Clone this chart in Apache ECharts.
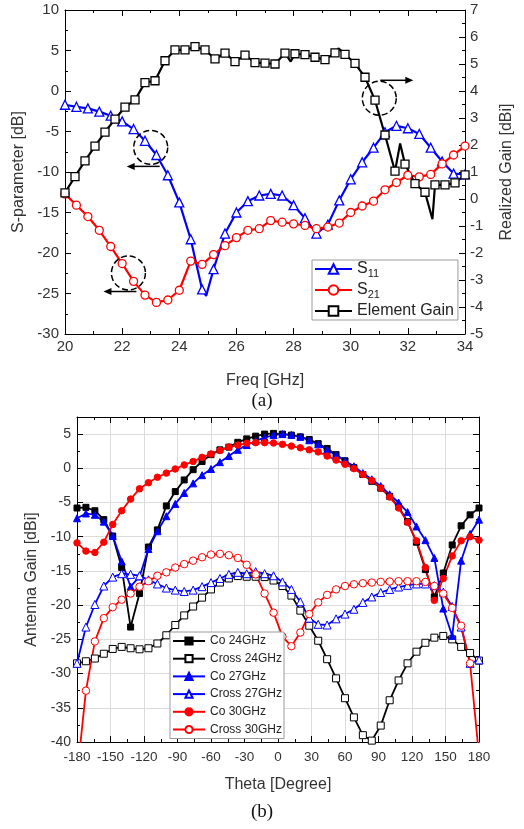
<!DOCTYPE html>
<html><head><meta charset="utf-8">
<script src="https://cdn.jsdelivr.net/npm/echarts@6/dist/echarts.min.js"></script>
<style>html,body{margin:0;padding:0;background:#fff}#c{width:524px;height:829px}</style>
</head><body><div id="c"></div>
<script>
// ---------- (a) S-parameters / element gain ----------
const freqS = [20.0,20.4,20.8,21.2,21.6,22.0,22.4,22.8,23.2,23.6,24.0,24.4,24.8,25.2,25.6,26.0,26.4,26.8,27.2,27.6,28.0,28.4,28.8,29.2,29.6,30.0,30.4,30.8,31.2,31.6,32.0,32.4,32.8,33.2,33.6,34.0];
const s11 = [-1.7,-1.95,-2.15,-2.55,-3.05,-3.75,-4.7,-6.15,-7.9,-10.4,-13.75,-18.3,-24.5,-22.0,-17.6,-15.0,-13.6,-12.9,-12.7,-12.9,-14.1,-15.7,-17.6,-16.5,-13.5,-10.9,-8.8,-7.0,-5.1,-4.3,-4.6,-5.3,-7.0,-8.7,-10.2,-10.3];
const s11DetailFreq = [24.94];
const s11DetailVal = [-25.3];
const s21 = [-12.7,-14.1,-15.5,-17.2,-19.2,-21.3,-23.5,-25.2,-26.1,-25.8,-24.6,-21.0,-21.4,-20.2,-19.1,-18.1,-17.2,-17.0,-16.0,-16.2,-16.4,-16.6,-17.0,-16.8,-16.3,-15.0,-14.2,-13.6,-12.2,-11.3,-10.4,-10.6,-10.3,-9.0,-7.9,-6.8];
const freqGain = [20.00,20.35,20.70,21.05,21.40,21.75,22.10,22.45,22.80,23.15,23.50,23.85,24.20,24.55,24.90,25.25,25.60,25.95,26.30,26.65,27.00,27.35,27.70,28.05,28.40,28.75,29.10,29.45,29.80,30.15,30.50,30.85,31.20,31.55,31.90,32.25,32.60,32.95,33.30,33.65,34.00];
const gain = [0.23,0.83,1.41,1.96,2.48,2.96,3.40,3.67,4.31,4.38,5.12,5.52,5.52,5.64,5.52,5.19,5.40,5.09,5.33,5.05,5.03,5.0,5.40,5.38,5.35,5.25,5.16,5.41,5.36,5.02,4.51,3.66,2.37,1.03,1.29,0.57,0.25,0.52,0.52,0.60,0.89];
const gainDetailFreq = [27.9,29.57,31.73,32.86];
const gainDetailVal = [5.09,5.58,2.06,-0.75];

// ---------- (b) radiation patterns ----------
const theta = [-180,-172,-164,-156,-148,-140,-132,-124,-116,-108,-100,-92,-84,-76,-68,-60,-52,-44,-36,-28,-20,-12,-4,4,12,20,28,36,44,52,60,68,76,84,92,100,108,116,124,132,140,148,156,164,172,180];
const co24 = [-5.8,-5.7,-6.2,-7.5,-9.9,-14.5,-23.2,-18.3,-11.5,-9.0,-5.5,-3.4,-1.7,-0.2,1.0,2.0,2.7,3.1,3.8,4.3,4.7,5.0,5.1,5.0,4.85,4.6,4.2,3.6,2.9,2.0,1.1,0.1,-0.9,-1.9,-2.9,-4.1,-5.6,-7.8,-10.8,-14.8,-18.8,-15.3,-11.2,-8.4,-6.8,-5.8];
const cross24 = [-28.5,-28.2,-27.8,-27.1,-26.4,-26.1,-26.3,-26.45,-26.3,-25.6,-24.4,-22.9,-21.5,-20.2,-18.9,-17.7,-16.7,-16.1,-15.75,-15.85,-15.85,-15.9,-16.4,-17.2,-18.6,-20.8,-23.0,-25.2,-27.9,-30.7,-33.6,-36.4,-39.0,-39.8,-37.6,-33.9,-31.0,-28.5,-26.8,-25.5,-24.75,-24.5,-25.0,-26.1,-27.0,-28.1];
const co27 = [-7.3,-6.6,-6.8,-7.8,-9.9,-13.6,-17.3,-15.8,-11.8,-9.2,-7.0,-5.2,-3.6,-2.2,-1.0,-0.1,0.9,1.8,2.7,3.4,4.0,4.5,4.85,5.0,4.9,4.6,4.1,3.5,2.7,1.9,1.1,0.3,-0.7,-1.6,-2.6,-3.8,-5.0,-6.4,-8.5,-10.5,-13.1,-20.5,-24.5,-13.5,-9.6,-7.5];
const cross27 = [-28.5,-23.2,-19.9,-17.2,-15.9,-15.4,-15.5,-15.7,-16.3,-16.9,-17.5,-17.8,-18.0,-17.8,-17.3,-16.7,-16.1,-15.5,-15.2,-15.4,-15.1,-15.4,-15.7,-16.6,-17.7,-19.5,-21.9,-22.8,-22.9,-22.0,-21.3,-20.6,-19.6,-18.8,-18.15,-17.7,-17.35,-17.1,-16.9,-16.9,-17.15,-18.1,-20.2,-23.2,-28.5,-28.0];
const co30 = [-10.9,-12.1,-12.3,-10.8,-8.2,-6.2,-4.5,-3.0,-2.1,-1.3,-0.7,-0.1,0.5,1.0,1.6,2.1,2.6,3.1,3.4,3.65,3.75,3.75,3.7,3.5,3.25,3.0,2.7,2.4,1.8,1.2,0.6,-0.05,-0.9,-1.8,-2.9,-4.2,-5.8,-7.9,-10.6,-14.5,-19.3,-16.1,-12.8,-10.6,-10.0,-10.5];
const cross30 = [-45,-32.5,-25.3,-21.9,-20.3,-19.2,-18.3,-17.3,-16.5,-15.7,-15.2,-14.5,-14.0,-13.5,-13.0,-12.6,-12.5,-12.7,-13.1,-14.1,-15.5,-18.3,-21.1,-24.6,-26.0,-24.0,-21.3,-19.6,-18.5,-17.7,-17.2,-16.95,-16.8,-16.7,-16.6,-16.55,-16.5,-16.5,-16.5,-16.6,-17.2,-18.3,-20.4,-23.0,-28.5,-42];

const FONT = '"Liberation Sans", Arial, Helvetica, sans-serif';
const TXT = '#333';
const BLUE = '#0000ff', RED = '#ff0000', BLACK = '#000000';

function pairs(xs, ys) { return xs.map((x, i) => [x, ys[i]]); }
function withDetail(xs, ys, dx, dy) {
  const a = xs.map((x, i) => ({ value: [x, ys[i]] }));
  const b = dx.map((x, i) => ({ value: [x, dy[i]], symbol: 'none' }));
  return a.concat(b).sort((p, q) => p.value[0] - q.value[0]);
}

function axis(o) {
  const base = {
    type: 'value',
    axisLine: { show: true, onZero: false, lineStyle: { color: '#000', width: 1 } },
    axisTick: { show: true, inside: true, length: 6, lineStyle: { color: '#000', width: 1 } },
    minorTick: { show: true, splitNumber: 2, length: 3, lineStyle: { color: '#000', width: 1 } },
    splitLine: { show: false },
    axisLabel: { show: true, color: TXT, fontFamily: FONT },
    nameTextStyle: { color: TXT, fontFamily: FONT, fontSize: 16 }
  };
  return Object.assign(base, o);
}
const grid1Split = { show: true, lineStyle: { color: '#dcdcdc', width: 1 } };

const chart = echarts.init(document.getElementById('c'), null, { renderer: 'canvas' });

function lineSeries(name, xi, yi, data, sym, size, color, filled, lw, bw) {
  return {
    name, type: 'line', xAxisIndex: xi, yAxisIndex: yi, data,
    symbol: sym, symbolSize: size, showAllSymbol: true,
    lineStyle: { color, width: lw },
    itemStyle: { color: filled ? color : '#ffffff', borderColor: color, borderWidth: bw },
    emphasis: { disabled: true }, animation: false
  };
}

const option = {
  animation: false,
  textStyle: { fontFamily: FONT },
  grid: [
    { left: 65, top: 10, width: 400, height: 324 },
    { left: 77, top: 417, width: 402, height: 325 }
  ],
  xAxis: [
    axis({ gridIndex: 0, min: 20, max: 34, interval: 2, position: 'bottom',
      axisLabel: { color: TXT, fontSize: 15, margin: 5, fontFamily: FONT },
      name: 'Freq [GHz]', nameLocation: 'middle', nameGap: 39 }),
    axis({ gridIndex: 0, min: 20, max: 34, interval: 2, position: 'top', axisLabel: { show: false } }),
    axis({ gridIndex: 1, min: -180, max: 180, interval: 30, position: 'bottom', splitLine: grid1Split,
      axisLabel: { color: TXT, fontSize: 13.5, margin: 8, fontFamily: FONT },
      name: 'Theta [Degree]', nameLocation: 'middle', nameGap: 35 }),
    axis({ gridIndex: 1, min: -180, max: 180, interval: 30, position: 'top', axisLabel: { show: false } })
  ],
  yAxis: [
    axis({ gridIndex: 0, min: -30, max: 10, interval: 5, position: 'left',
      axisLabel: { color: TXT, fontSize: 15, margin: 6, fontFamily: FONT },
      name: 'S-parameter [dB]', nameLocation: 'middle', nameGap: 34, nameRotate: 90 }),
    axis({ gridIndex: 0, min: -5, max: 7, interval: 1, position: 'right',
      axisLabel: { color: TXT, fontSize: 15, margin: 5, fontFamily: FONT },
      name: 'Realized Gain [dBi]', nameLocation: 'middle', nameGap: 34, nameRotate: 90 }),
    axis({ gridIndex: 1, min: -40, max: 7.5, interval: 5, position: 'left', splitLine: grid1Split,
      axisLabel: { color: TXT, fontSize: 14, margin: 6, fontFamily: FONT,
        formatter: v => (Math.abs(v % 5) < 1e-9 ? String(v) : '') },
      name: 'Antenna Gain [dBi]', nameLocation: 'middle', nameGap: 26, nameRotate: 90 }),
    axis({ gridIndex: 1, min: -40, max: 7.5, interval: 5, position: 'right', axisLabel: { show: false } })
  ],
  legend: [
    {
      data: ['S11', 'S21', 'Element Gain'], orient: 'vertical', left: 312, top: 260,
      itemWidth: 37, itemHeight: 12, itemGap: 2.5, padding: [1, 4, 1, 2],
      backgroundColor: '#fff', borderColor: '#9a9a9a', borderWidth: 1, borderRadius: 0,
      selectedMode: false,
      formatter: n => n === 'S11' ? '{m|S}{s|11}' : n === 'S21' ? '{m|S}{s|21}' : '{m|' + n + '}',
      textStyle: { color: '#222', fontSize: 16, fontFamily: FONT,
        rich: { m: { fontSize: 16, lineHeight: 21, fontFamily: FONT, color: '#222' },
                s: { fontSize: 11, padding: [10, 0, 0, 0], fontFamily: FONT, color: '#222' } } }
    },
    {
      data: ['Co 24GHz', 'Cross 24GHz', 'Co 27GHz', 'Cross 27GHz', 'Co 30GHz', 'Cross 30GHz'],
      orient: 'vertical', left: 170, top: 632,
      itemWidth: 32, itemHeight: 9, itemGap: 3.7, padding: [2, 2, 2, 2],
      backgroundColor: '#fff', borderColor: '#9a9a9a', borderWidth: 1, borderRadius: 0,
      selectedMode: false,
      textStyle: { color: '#222', fontSize: 12, lineHeight: 14, fontFamily: FONT }
    }
  ],
  series: [
    lineSeries('S11', 0, 0, withDetail(freqS, s11, s11DetailFreq, s11DetailVal), 'triangle', 9, BLUE, false, 2.2, 1.3),
    lineSeries('S21', 0, 0, pairs(freqS, s21), 'circle', 8, RED, false, 2.2, 1.3),
    lineSeries('Element Gain', 0, 1, withDetail(freqGain, gain, gainDetailFreq, gainDetailVal), 'rect', 8, BLACK, false, 2.2, 1.3),
    lineSeries('Co 24GHz', 2, 2, pairs(theta, co24), 'rect', 6, BLACK, true, 1.8, 1),
    lineSeries('Cross 24GHz', 2, 2, pairs(theta, cross24), 'rect', 7, BLACK, false, 1.8, 1),
    lineSeries('Co 27GHz', 2, 2, pairs(theta, co27), 'triangle', 7, BLUE, true, 1.8, 1),
    lineSeries('Cross 27GHz', 2, 2, pairs(theta, cross27), 'triangle', 8, BLUE, false, 1.8, 1),
    lineSeries('Co 30GHz', 2, 2, pairs(theta, co30), 'circle', 6.5, RED, true, 1.8, 1),
    lineSeries('Cross 30GHz', 2, 2, pairs(theta, cross30), 'circle', 7.5, RED, false, 1.8, 1)
  ]
};
chart.setOption(option);

// ---------- annotations (dashed circles with arrows) ----------
const annotations = [
  { at: [23.0, -6.96], yAxis: 0, dir: -1, dy: 19, x0: 9, x1: -24 },
  { at: [22.22, -22.47], yAxis: 0, dir: -1, dy: 18.5, x0: 8, x1: -25 },
  { at: [31.0, 3.73], yAxis: 1, dir: 1, dy: -18, x0: 1, x1: 34 }
];
const g = [];
annotations.forEach(a => {
  const p = chart.convertToPixel({ xAxisIndex: 0, yAxisIndex: a.yAxis }, a.at);
  const cx = p[0], cy = p[1];
  g.push({ type: 'circle', z: 100, shape: { cx, cy, r: 17 },
    style: { fill: null, stroke: '#000', lineWidth: 1.5, lineDash: [6, 3] } });
  const y = cy + a.dy, xs = cx + a.x0, xe = cx + a.x1;
  g.push({ type: 'line', z: 100, shape: { x1: xs, y1: y, x2: xe - a.dir * 6, y2: y },
    style: { stroke: '#000', lineWidth: 1.5 } });
  g.push({ type: 'polygon', z: 100,
    shape: { points: [[xe, y], [xe - a.dir * 8, y - 3.5], [xe - a.dir * 8, y + 3.5]] },
    style: { fill: '#000' } });
});
g.push({ type: 'text', z: 100, x: 262, y: 401,
  style: { text: '(a)', font: '19px "Liberation Serif", "Times New Roman", serif', fill: '#111', textAlign: 'center', textVerticalAlign: 'middle' } });
g.push({ type: 'text', z: 100, x: 262, y: 812,
  style: { text: '(b)', font: '19px "Liberation Serif", "Times New Roman", serif', fill: '#111', textAlign: 'center', textVerticalAlign: 'middle' } });
chart.setOption({ graphic: g });
</script></body></html>
